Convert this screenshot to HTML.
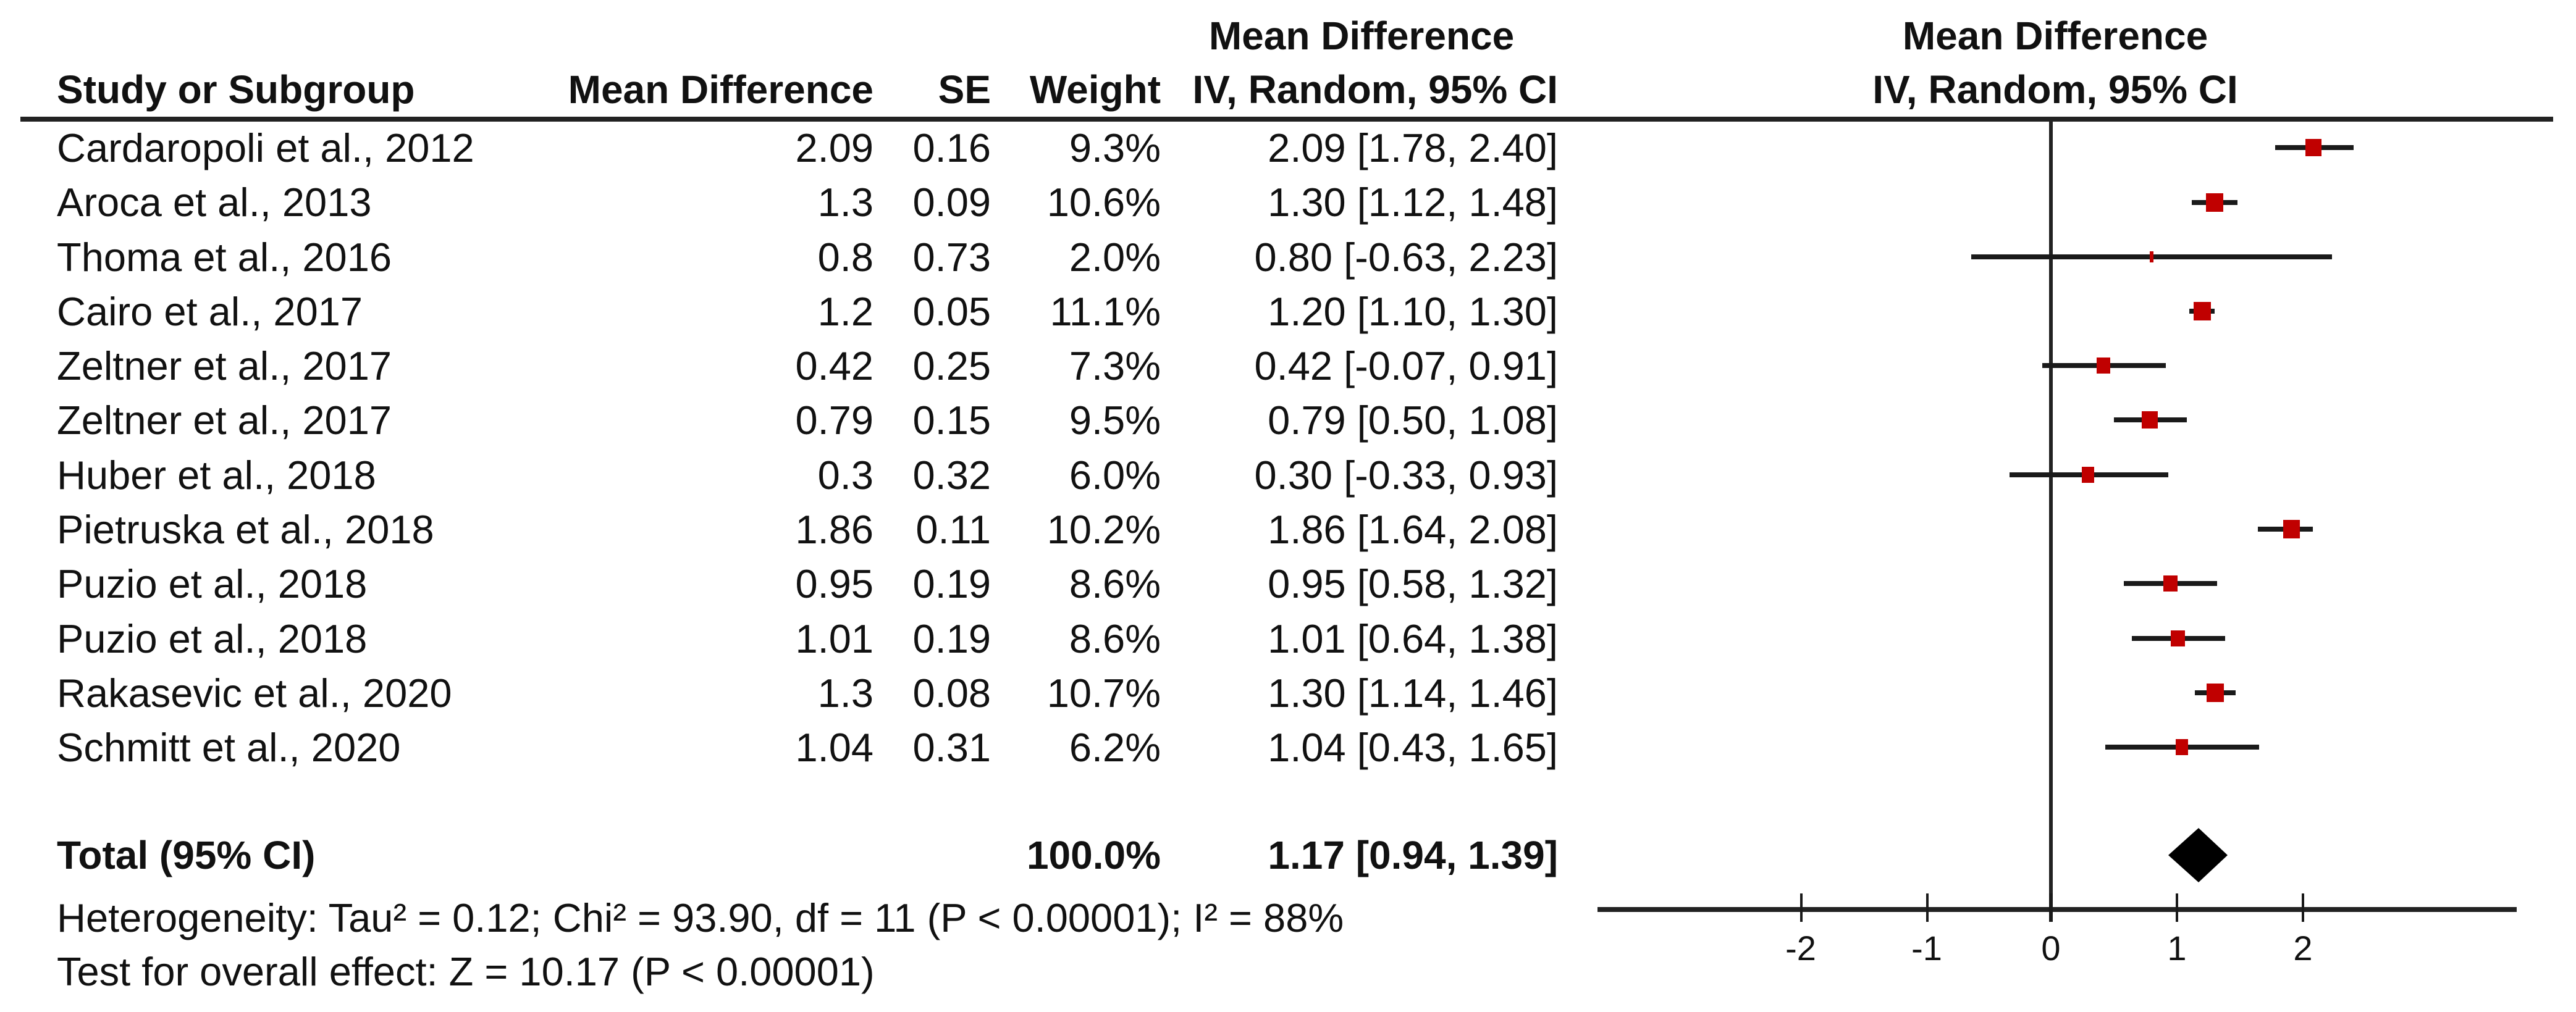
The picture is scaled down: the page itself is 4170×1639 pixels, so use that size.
<!DOCTYPE html>
<html><head><meta charset="utf-8"><style>
html,body{margin:0;padding:0;background:#fff;}
svg{display:block;}
text{font-family:"Liberation Sans",Arial,sans-serif;fill:#111;}
.h{font-weight:bold;font-size:64px;}
.t{font-size:65px;}
</style></head><body>
<svg width="4170" height="1639" viewBox="0 0 4170 1639" xmlns="http://www.w3.org/2000/svg">
<text class="h" x="2204" y="80" text-anchor="middle">Mean Difference</text>
<text class="h" x="3327" y="80" text-anchor="middle">Mean Difference</text>
<text class="h" x="92" y="167">Study or Subgroup</text>
<text class="h" x="1414" y="167" text-anchor="end">Mean Difference</text>
<text class="h" x="1604" y="167" text-anchor="end">SE</text>
<text class="h" x="1879" y="167" text-anchor="end">Weight</text>
<text class="h" x="2522" y="167" text-anchor="end">IV, Random, 95% CI</text>
<text class="h" x="3327" y="167" text-anchor="middle">IV, Random, 95% CI</text>
<rect x="33" y="189" width="4100" height="8" fill="#222"/>
<rect x="3317" y="193" width="6" height="1280" fill="#222"/>
<g>
<text class="t" x="92" y="262">Cardaropoli et al., 2012</text><text class="t" x="1414" y="262" text-anchor="end">2.09</text><text class="t" x="1604" y="262" text-anchor="end">0.16</text><text class="t" x="1879" y="262" text-anchor="end">9.3%</text><text class="t" x="2522" y="262" text-anchor="end">2.09 [1.78, 2.40]</text>
<text class="t" x="92" y="350">Aroca et al., 2013</text><text class="t" x="1414" y="350" text-anchor="end">1.3</text><text class="t" x="1604" y="350" text-anchor="end">0.09</text><text class="t" x="1879" y="350" text-anchor="end">10.6%</text><text class="t" x="2522" y="350" text-anchor="end">1.30 [1.12, 1.48]</text>
<text class="t" x="92" y="439">Thoma et al., 2016</text><text class="t" x="1414" y="439" text-anchor="end">0.8</text><text class="t" x="1604" y="439" text-anchor="end">0.73</text><text class="t" x="1879" y="439" text-anchor="end">2.0%</text><text class="t" x="2522" y="439" text-anchor="end">0.80 [-0.63, 2.23]</text>
<text class="t" x="92" y="527">Cairo et al., 2017</text><text class="t" x="1414" y="527" text-anchor="end">1.2</text><text class="t" x="1604" y="527" text-anchor="end">0.05</text><text class="t" x="1879" y="527" text-anchor="end">11.1%</text><text class="t" x="2522" y="527" text-anchor="end">1.20 [1.10, 1.30]</text>
<text class="t" x="92" y="615">Zeltner et al., 2017</text><text class="t" x="1414" y="615" text-anchor="end">0.42</text><text class="t" x="1604" y="615" text-anchor="end">0.25</text><text class="t" x="1879" y="615" text-anchor="end">7.3%</text><text class="t" x="2522" y="615" text-anchor="end">0.42 [-0.07, 0.91]</text>
<text class="t" x="92" y="703">Zeltner et al., 2017</text><text class="t" x="1414" y="703" text-anchor="end">0.79</text><text class="t" x="1604" y="703" text-anchor="end">0.15</text><text class="t" x="1879" y="703" text-anchor="end">9.5%</text><text class="t" x="2522" y="703" text-anchor="end">0.79 [0.50, 1.08]</text>
<text class="t" x="92" y="792">Huber et al., 2018</text><text class="t" x="1414" y="792" text-anchor="end">0.3</text><text class="t" x="1604" y="792" text-anchor="end">0.32</text><text class="t" x="1879" y="792" text-anchor="end">6.0%</text><text class="t" x="2522" y="792" text-anchor="end">0.30 [-0.33, 0.93]</text>
<text class="t" x="92" y="880">Pietruska et al., 2018</text><text class="t" x="1414" y="880" text-anchor="end">1.86</text><text class="t" x="1604" y="880" text-anchor="end">0.11</text><text class="t" x="1879" y="880" text-anchor="end">10.2%</text><text class="t" x="2522" y="880" text-anchor="end">1.86 [1.64, 2.08]</text>
<text class="t" x="92" y="968">Puzio et al., 2018</text><text class="t" x="1414" y="968" text-anchor="end">0.95</text><text class="t" x="1604" y="968" text-anchor="end">0.19</text><text class="t" x="1879" y="968" text-anchor="end">8.6%</text><text class="t" x="2522" y="968" text-anchor="end">0.95 [0.58, 1.32]</text>
<text class="t" x="92" y="1057">Puzio et al., 2018</text><text class="t" x="1414" y="1057" text-anchor="end">1.01</text><text class="t" x="1604" y="1057" text-anchor="end">0.19</text><text class="t" x="1879" y="1057" text-anchor="end">8.6%</text><text class="t" x="2522" y="1057" text-anchor="end">1.01 [0.64, 1.38]</text>
<text class="t" x="92" y="1145">Rakasevic et al., 2020</text><text class="t" x="1414" y="1145" text-anchor="end">1.3</text><text class="t" x="1604" y="1145" text-anchor="end">0.08</text><text class="t" x="1879" y="1145" text-anchor="end">10.7%</text><text class="t" x="2522" y="1145" text-anchor="end">1.30 [1.14, 1.46]</text>
<text class="t" x="92" y="1233">Schmitt et al., 2020</text><text class="t" x="1414" y="1233" text-anchor="end">1.04</text><text class="t" x="1604" y="1233" text-anchor="end">0.31</text><text class="t" x="1879" y="1233" text-anchor="end">6.2%</text><text class="t" x="2522" y="1233" text-anchor="end">1.04 [0.43, 1.65]</text>
</g>
<text class="h" x="92" y="1407">Total (95% CI)</text>
<text class="h" x="1879" y="1407" text-anchor="end">100.0%</text>
<text class="h" x="2522" y="1407" text-anchor="end">1.17 [0.94, 1.39]</text>
<text class="t" x="92" y="1509" font-size="64">Heterogeneity: Tau² = 0.12; Chi² = 93.90, df = 11 (P &lt; 0.00001); I² = 88%</text>
<text class="t" x="92" y="1596">Test for overall effect: Z = 10.17 (P &lt; 0.00001)</text>
<g fill="#1a1a1a">
<rect x="3683" y="235" width="127" height="8"/>
<rect x="3548" y="324" width="74" height="8"/>
<rect x="3191" y="412" width="584" height="8"/>
<rect x="3544" y="500" width="41" height="8"/>
<rect x="3306" y="588" width="200" height="8"/>
<rect x="3422" y="676" width="118" height="8"/>
<rect x="3253" y="765" width="257" height="8"/>
<rect x="3655" y="853" width="89" height="8"/>
<rect x="3438" y="941" width="151" height="8"/>
<rect x="3451" y="1030" width="151" height="8"/>
<rect x="3553" y="1118" width="66" height="8"/>
<rect x="3408" y="1206" width="249" height="8"/>
</g>
<g fill="#c00000">
<rect x="3732" y="225" width="26" height="28"/>
<rect x="3571" y="313" width="28" height="30"/>
<rect x="3480" y="407" width="6" height="18"/>
<rect x="3551" y="489" width="28" height="30"/>
<rect x="3394" y="579" width="22" height="26"/>
<rect x="3467" y="666" width="26" height="28"/>
<rect x="3370" y="756" width="20" height="26"/>
<rect x="3696" y="842" width="27" height="30"/>
<rect x="3502" y="932" width="23" height="26"/>
<rect x="3514" y="1021" width="23" height="26"/>
<rect x="3572" y="1107" width="28" height="30"/>
<rect x="3522" y="1197" width="20" height="26"/>
</g>
<polygon points="3510,1385 3559,1341 3606,1385 3559,1429" fill="#000"/>
<rect x="2586" y="1469" width="1488" height="8" fill="#222"/>
<g fill="#1a1a1a">
<rect x="2914" y="1447" width="4" height="46"/>
<rect x="3118" y="1447" width="4" height="46"/>
<rect x="3317" y="1447" width="6" height="46"/>
<rect x="3522" y="1447" width="4" height="46"/>
<rect x="3726" y="1447" width="4" height="46"/>
</g>
<text x="2915" y="1555" font-size="56" text-anchor="middle">-2</text>
<text x="3119" y="1555" font-size="56" text-anchor="middle">-1</text>
<text x="3320" y="1555" font-size="56" text-anchor="middle">0</text>
<text x="3524" y="1555" font-size="56" text-anchor="middle">1</text>
<text x="3728" y="1555" font-size="56" text-anchor="middle">2</text>
</svg>
</body></html>
